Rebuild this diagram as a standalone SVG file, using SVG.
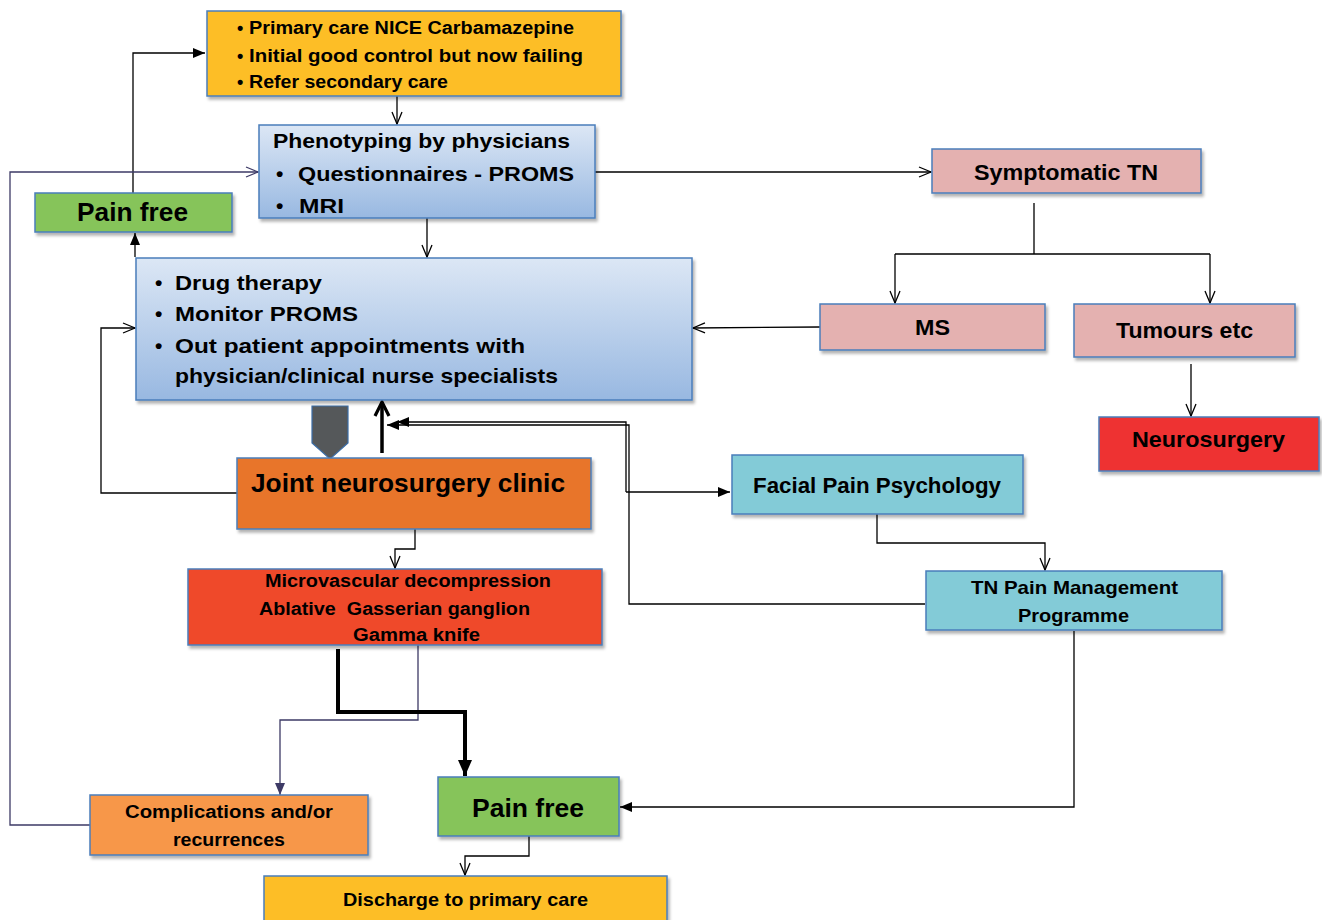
<svg xmlns="http://www.w3.org/2000/svg" width="1322" height="920" viewBox="0 0 1322 920">
<defs>
<style>
.box{stroke:#4A7EBB;stroke-width:1.5;filter:url(#sh)}
.t{font-family:"Liberation Sans",Arial,sans-serif;font-weight:bold;fill:#000;lengthAdjust:spacingAndGlyphs}
.c{fill:none;stroke:#000;stroke-width:1.3}
.p{fill:none;stroke:#3d3a66;stroke-width:1.3}
</style>
<linearGradient id="blue" x1="0" y1="0" x2="0" y2="1">
<stop offset="0" stop-color="#dce7f5"/>
<stop offset="1" stop-color="#98b8e1"/>
</linearGradient>
<filter id="sh" x="-5%" y="-10%" width="115%" height="130%">
<feDropShadow dx="2" dy="3" stdDeviation="1.5" flood-color="#000" flood-opacity="0.3"/>
</filter>
<marker id="open" markerUnits="userSpaceOnUse" viewBox="0 0 14 12" refX="13" refY="6" markerWidth="14" markerHeight="12" orient="auto">
<path d="M1,1 L13,6 L1,11" fill="none" stroke="#000" stroke-width="1.3"/>
</marker>
<marker id="openp" markerUnits="userSpaceOnUse" viewBox="0 0 14 12" refX="13" refY="6" markerWidth="14" markerHeight="12" orient="auto">
<path d="M1,1 L13,6 L1,11" fill="none" stroke="#3d3a66" stroke-width="1.3"/>
</marker>
<marker id="fill" markerUnits="userSpaceOnUse" viewBox="0 0 12 10" refX="12" refY="5" markerWidth="12" markerHeight="10" orient="auto">
<path d="M0,0 L12,5 L0,10 Z" fill="#000"/>
</marker>
<marker id="fillp" markerUnits="userSpaceOnUse" viewBox="0 0 12 10" refX="12" refY="5" markerWidth="12" markerHeight="10" orient="auto">
<path d="M0,0 L12,5 L0,10 Z" fill="#3d3a66"/>
</marker>
<marker id="thick" markerUnits="userSpaceOnUse" viewBox="0 0 16 14" refX="16" refY="7" markerWidth="16" markerHeight="14" orient="auto">
<path d="M0,0 L16,7 L0,14 Z" fill="#000"/>
</marker>
<marker id="thickopen" markerUnits="userSpaceOnUse" viewBox="0 0 18 18" refX="16" refY="9" markerWidth="18" markerHeight="18" orient="auto">
<path d="M2,2 L16,9 L2,16" fill="none" stroke="#000" stroke-width="3.2"/>
</marker>
</defs>
<rect width="1322" height="920" fill="#fff"/>

<g id="connectors">
<path class="c" d="M133,193 L133,53 L205,53" marker-end="url(#fill)"/>
<path class="c" d="M397,96 L397,124" marker-end="url(#open)"/>
<path class="p" d="M90,825 L10,825 L10,172 L258,172" marker-end="url(#openp)"/>
<path class="c" d="M595,172 L931,172" marker-end="url(#open)"/>
<path class="c" d="M427,218 L427,257" marker-end="url(#open)"/>
<path class="c" d="M135,257 L135,233" marker-end="url(#fill)"/>
<path class="c" d="M237,493 L101,493 L101,328 L135,328" marker-end="url(#open)"/>
<path class="c" d="M1034,203 L1034,254 M895,254 L1210,254"/>
<path class="c" d="M895,254 L895,303" marker-end="url(#open)"/>
<path class="c" d="M1210,254 L1210,303" marker-end="url(#open)"/>
<path class="c" d="M820,327 L693,328" marker-end="url(#open)"/>
<path class="c" d="M1191,364 L1191,416" marker-end="url(#open)"/>
<path class="c" d="M415,529 L415,549 L395,549 L395,568" marker-end="url(#open)"/>
<path class="p" d="M418,643 L418,720 L280,720 L280,795" marker-end="url(#fillp)"/>
<path fill="none" stroke="#000" stroke-width="4" d="M338,649 L338,712 L465,712 L465,776" marker-end="url(#thick)"/>
<path class="c" d="M529,836 L529,856 L465,856 L465,875" marker-end="url(#open)"/>
<path class="c" d="M1074,631 L1074,807 L620,807" marker-end="url(#fill)"/>
<path class="c" d="M877,514 L877,543 L1045,543 L1045,570" marker-end="url(#open)"/>
<path class="c" d="M626,492 L730,492" marker-end="url(#fill)"/>
<path class="c" d="M626,492 L626,422 L397,422" marker-end="url(#fill)"/>
<path class="c" d="M925,604 L629,604 L629,425 L387,425" marker-end="url(#fill)"/>
<path fill="none" stroke="#000" stroke-width="3.5" d="M382,453 L382,402" marker-end="url(#thickopen)"/>
<polygon points="312,406 348,406 348,443 330,459 312,443" fill="#55585A" stroke="#3c6ea8" stroke-width="1.2"/>
</g>

<g id="primary">
<rect class="box" x="207" y="11" width="414" height="85" fill="#FDBE27"/>
<text class="t" font-size="18" x="237" y="34">•</text>
<text class="t" font-size="18" x="249" y="34" textLength="325" lengthAdjust="spacingAndGlyphs">Primary care NICE Carbamazepine</text>
<text class="t" font-size="18" x="237" y="62">•</text>
<text class="t" font-size="18" x="249" y="62" textLength="334" lengthAdjust="spacingAndGlyphs">Initial good control but now failing</text>
<text class="t" font-size="18" x="237" y="88">•</text>
<text class="t" font-size="18" x="249" y="88" textLength="199" lengthAdjust="spacingAndGlyphs">Refer secondary care</text>
</g>

<g id="phenotyping">
<rect class="box" x="259" y="125" width="336" height="93" fill="url(#blue)"/>
<text class="t" font-size="21" x="273" y="148" textLength="297" lengthAdjust="spacingAndGlyphs">Phenotyping by physicians</text>
<text class="t" font-size="21" x="276" y="181">•</text>
<text class="t" font-size="21" x="298" y="181" textLength="276" lengthAdjust="spacingAndGlyphs">Questionnaires - PROMS</text>
<text class="t" font-size="21" x="276" y="213">•</text>
<text class="t" font-size="21" x="299" y="213" textLength="45" lengthAdjust="spacingAndGlyphs">MRI</text>
</g>

<g id="painfree-top">
<rect class="box" x="35" y="193" width="197" height="39" fill="#86C45A"/>
<text class="t" font-size="25" x="77" y="221" textLength="111" lengthAdjust="spacingAndGlyphs">Pain free</text>
</g>

<g id="drug-therapy">
<rect class="box" x="136" y="258" width="556" height="142" fill="url(#blue)"/>
<text class="t" font-size="21" x="155" y="290">•</text>
<text class="t" font-size="21" x="175" y="290" textLength="147" lengthAdjust="spacingAndGlyphs">Drug therapy</text>
<text class="t" font-size="21" x="155" y="321">•</text>
<text class="t" font-size="21" x="175" y="321" textLength="183" lengthAdjust="spacingAndGlyphs">Monitor PROMS</text>
<text class="t" font-size="21" x="155" y="353">•</text>
<text class="t" font-size="21" x="175" y="353" textLength="350" lengthAdjust="spacingAndGlyphs">Out patient appointments with</text>
<text class="t" font-size="21" x="175" y="383" textLength="383" lengthAdjust="spacingAndGlyphs">physician/clinical nurse specialists</text>
</g>

<g id="symptomatic">
<rect class="box" x="932" y="149" width="269" height="44" fill="#E4B1B0"/>
<text class="t" font-size="22" x="974" y="180" textLength="184" lengthAdjust="spacingAndGlyphs">Symptomatic TN</text>
</g>

<g id="ms">
<rect class="box" x="820" y="304" width="225" height="46" fill="#E4B1B0"/>
<text class="t" font-size="22" x="915" y="335" textLength="35" lengthAdjust="spacingAndGlyphs">MS</text>
</g>

<g id="tumours">
<rect class="box" x="1074" y="304" width="221" height="53" fill="#E4B1B0"/>
<text class="t" font-size="22" x="1116" y="338" textLength="137" lengthAdjust="spacingAndGlyphs">Tumours etc</text>
</g>

<g id="neurosurgery">
<rect class="box" x="1099" y="417" width="220" height="54" fill="#EE3031"/>
<text class="t" font-size="22" x="1132" y="447" textLength="153" lengthAdjust="spacingAndGlyphs">Neurosurgery</text>
</g>

<g id="facial">
<rect class="box" x="732" y="455" width="291" height="59" fill="#83CBD7"/>
<text class="t" font-size="22" x="753" y="493" textLength="248" lengthAdjust="spacingAndGlyphs">Facial Pain Psychology</text>
</g>

<g id="tn-programme">
<rect class="box" x="926" y="571" width="296" height="59" fill="#83CBD7"/>
<text class="t" font-size="19" x="971" y="594" textLength="207" lengthAdjust="spacingAndGlyphs">TN Pain Management</text>
<text class="t" font-size="19" x="1018" y="622" textLength="111" lengthAdjust="spacingAndGlyphs">Programme</text>
</g>

<g id="joint-clinic">
<rect class="box" x="237" y="458" width="354" height="71" fill="#E8742A"/>
<text class="t" font-size="25" x="251" y="492" textLength="314" lengthAdjust="spacingAndGlyphs">Joint neurosurgery clinic</text>
</g>

<g id="procedures">
<rect class="box" x="188" y="569" width="414" height="76" fill="#EF4A2C"/>
<text class="t" font-size="18" x="265" y="587" textLength="286" lengthAdjust="spacingAndGlyphs">Microvascular decompression</text>
<text class="t" font-size="18" x="259" y="615" textLength="271" lengthAdjust="spacingAndGlyphs" xml:space="preserve">Ablative  Gasserian ganglion</text>
<text class="t" font-size="18" x="353" y="641" textLength="127" lengthAdjust="spacingAndGlyphs">Gamma knife</text>
</g>

<g id="complications">
<rect class="box" x="90" y="795" width="278" height="60" fill="#F79749"/>
<text class="t" font-size="18" x="125" y="818" textLength="208" lengthAdjust="spacingAndGlyphs">Complications and/or</text>
<text class="t" font-size="18" x="173" y="846" textLength="112" lengthAdjust="spacingAndGlyphs">recurrences</text>
</g>

<g id="painfree-bottom">
<rect class="box" x="438" y="777" width="181" height="59" fill="#86C45A"/>
<text class="t" font-size="25" x="472" y="817" textLength="112" lengthAdjust="spacingAndGlyphs">Pain free</text>
</g>

<g id="discharge">
<rect class="box" x="264" y="876" width="403" height="60" fill="#FDBE27"/>
<text class="t" font-size="19" x="343" y="906" textLength="245" lengthAdjust="spacingAndGlyphs">Discharge to primary care</text>
</g>
</svg>
